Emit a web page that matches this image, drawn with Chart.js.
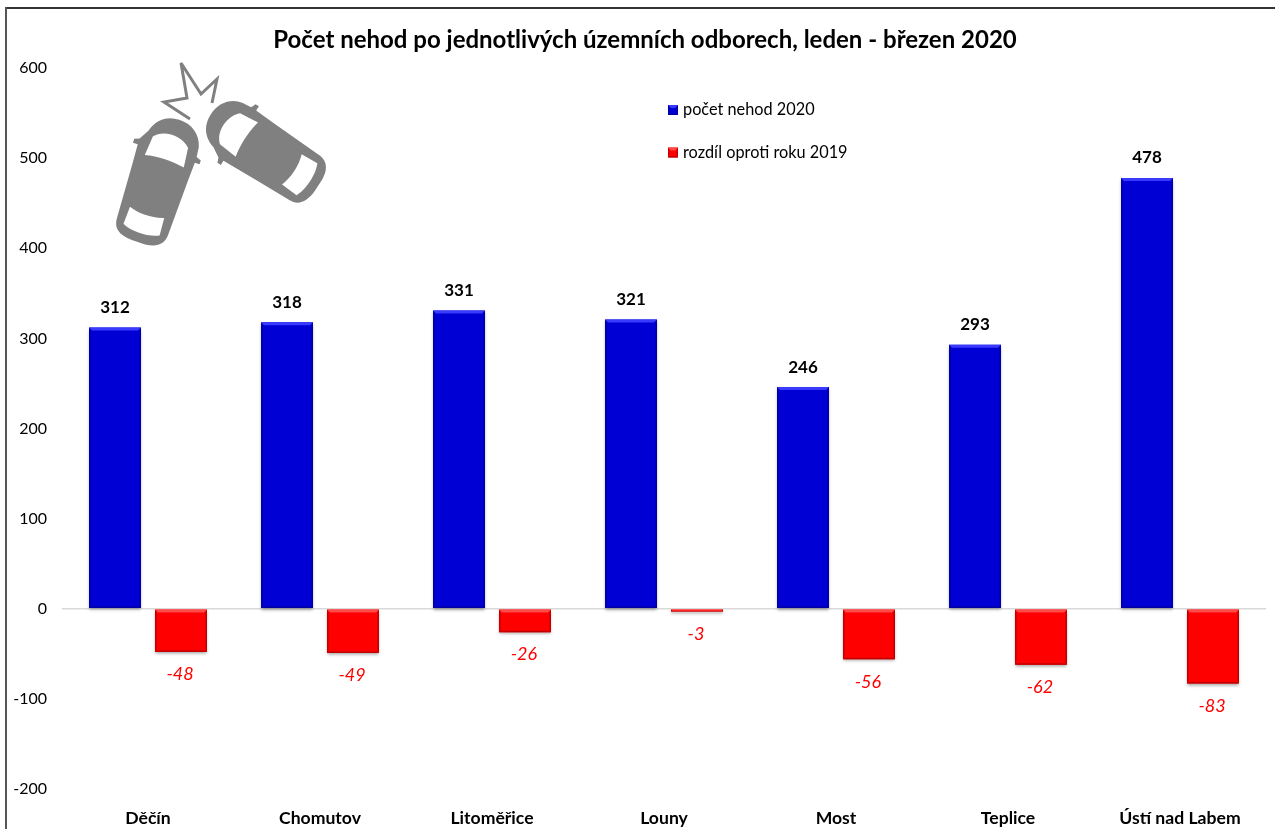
<!DOCTYPE html>
<html>
<head>
<meta charset="utf-8">
<title>Počet nehod</title>
<script src="https://cdn.jsdelivr.net/npm/chart.js@4/dist/chart.umd.js"></script>
<style>
html,body{margin:0;padding:0;background:#fff;overflow:hidden}
#wrap{position:relative;width:1275px;height:829px}
#chart{position:absolute;left:0;top:0}
#cars{position:absolute;left:0;top:0}
</style>
</head>
<body>
<div id="wrap">
<canvas id="chart" width="1275" height="829"></canvas>
<!-- car crash pictogram -->
<svg id="cars" width="1275" height="829" viewBox="0 0 1275 829">
  <defs>
    <g id="car">
      <path fill="#808080" d="M-24 -46 C-20 -60 -10 -66 2 -66 C16 -66 26 -58 29 -46 L30 -36 L35 -34 L35 -30 L30 -30 L29 -10 L27 46 C27 57 20 62 8 63 L-6 63 C-20 62 -27 57 -27 46 L-29 -10 L-30 -30 L-35 -30 L-35 -34 L-30 -36 Z"/>
      <path fill="#fff" d="M-20 -22 L-18 -42 C-10 -52 10 -52 19 -42 L21 -22 C8 -25 -7 -25 -20 -22 Z"/>
      <path fill="#fff" d="M-18 32 C-8 36 8 36 18 32 L19 50 C10 55 -10 55 -19 50 Z"/>
    </g>
  </defs>
  <use href="#car" transform="translate(157 182) rotate(18)"/>
  <use href="#car" transform="translate(265 152) rotate(-57)"/>
  <polyline fill="none" stroke="#808080" stroke-width="3" points="190,119 164,102 187,98 181,63 201,94 217,79 212,103"/>
</svg>
</div>
<script>
const chartTitle = "Počet nehod po jednotlivých územních odborech, leden - březen 2020";
const categories = ["Děčín", "Chomutov", "Litoměřice", "Louny", "Most", "Teplice", "Ústí nad Labem"];
const nehody2020 = [312, 318, 331, 321, 246, 293, 478];
const rozdil2019 = [-48, -49, -26, -3, -56, -62, -83];
const yTickValues = [-200, -100, 0, 100, 200, 300, 400, 500, 600];
const seriesNames = ["počet nehod 2020", "rozdíl oproti roku 2019"];
const FONT = "Lato, Carlito, sans-serif";

// shadow under the bars, like the bevel style from Excel
const barShadow = {
  id: "barShadow",
  beforeDatasetDraw(chart) {
    const c = chart.ctx;
    c.save();
    c.shadowColor = "rgba(0,0,0,.35)";
    c.shadowBlur = 3;
    c.shadowOffsetY = 2;
  },
  afterDatasetDraw(chart) {
    chart.ctx.restore();
  }
};

function bevel(c, el, light, dark) {
  const x0 = el.x - el.width / 2, x1 = el.x + el.width / 2;
  const y0 = Math.min(el.y, el.base), y1 = Math.max(el.y, el.base);
  const b = Math.min(3, (y1 - y0) / 2);
  c.fillStyle = light;
  c.beginPath();
  c.moveTo(x0, y0); c.lineTo(x1, y0); c.lineTo(x1 - b, y0 + b); c.lineTo(x0 + b, y0 + b);
  c.fill();
  c.fillStyle = dark;
  c.beginPath();
  c.moveTo(x0, y1); c.lineTo(x1, y1); c.lineTo(x1 - b / 2, y1 - b / 2); c.lineTo(x0 + b / 2, y1 - b / 2);
  c.fill();
  c.beginPath();
  c.moveTo(x1, y0); c.lineTo(x1, y1); c.lineTo(x1 - 1.5, y1 - b); c.lineTo(x1 - 1.5, y0 + b);
  c.fill();
  c.beginPath();
  c.moveTo(x0, y0); c.lineTo(x0, y1); c.lineTo(x0 + 1.5, y1 - b); c.lineTo(x0 + 1.5, y0 + b);
  c.fill();
}

const decorations = {
  id: "decorations",
  afterDatasetsDraw(chart) {
    const c = chart.ctx;
    const tones = [["#3a3aff", "#0000a0"], ["#ff4a4a", "#c00000"]];
    chart.getDatasetMeta(0).data.forEach((el) => bevel(c, el, tones[0][0], tones[0][1]));
    chart.getDatasetMeta(1).data.forEach((el) => bevel(c, el, tones[1][0], tones[1][1]));

    c.save();
    c.textAlign = "center";
    c.textBaseline = "middle";
    // value labels
    c.font = "bold 17px " + FONT;
    c.fillStyle = "#000";
    chart.getDatasetMeta(0).data.forEach((el, i) => {
      c.fillText(nehody2020[i], el.x, el.y - 20);
    });
    c.font = "italic 18px " + FONT;
    c.fillStyle = "#ff0000";
    chart.getDatasetMeta(1).data.forEach((el, i) => {
      c.fillText(rozdil2019[i], el.x - 1, el.y + 22.5);
    });
    // title
    c.font = "bold 24px " + FONT;
    c.fillStyle = "#000";
    c.fillText(chartTitle, 645, 40);
    // legend
    c.textAlign = "left";
    c.font = "16.3px " + FONT;
    seriesNames.forEach((name, i) => {
      const y = 110 + i * 42.5;
      c.fillStyle = chart.data.datasets[i].backgroundColor;
      c.fillRect(668, y - 5, 10, 10);
      bevel(c, { x: 673, width: 10, y: y - 5, base: y + 5 }, tones[i][0], tones[i][1]);
      c.fillStyle = "#000";
      c.fillText(name, 683, y);
    });
    // frame
    c.fillStyle = "#333";
    c.fillRect(5, 7, 1270, 2);
    c.fillStyle = "#555";
    c.fillRect(5, 7, 2, 822);
    c.restore();
  }
};

new Chart(document.getElementById("chart"), {
  type: "bar",
  data: {
    labels: categories,
    datasets: [
      { label: seriesNames[0], data: nehody2020, backgroundColor: "#0000d4" },
      { label: seriesNames[1], data: rozdil2019, backgroundColor: "#ff0000" }
    ]
  },
  options: {
    responsive: false,
    animation: false,
    layout: { padding: { top: 68, right: 9, left: 0, bottom: 0 } },
    categoryPercentage: 0.767,
    barPercentage: 0.788,
    plugins: { legend: { display: false }, title: { display: false }, tooltip: { enabled: false } },
    scales: {
      x: {
        grid: { display: false },
        border: { display: false },
        afterFit(s) { s.height = 40; },
        ticks: {
          color: "#000",
          padding: 11,
          maxRotation: 0,
          autoSkip: false,
          font: { family: FONT, size: 17.6, weight: "bold" }
        }
      },
      y: {
        min: -200,
        max: 600,
        afterFit(s) { s.width = 62; },
        afterBuildTicks(s) { s.ticks = yTickValues.map((v) => ({ value: v })); },
        border: { display: false },
        grid: {
          drawTicks: false,
          lineWidth: 1.5,
          color: (ctx) => (ctx.tick && ctx.tick.value === 0 ? "#d9d9d9" : "rgba(0,0,0,0)")
        },
        ticks: {
          color: "#000",
          padding: 15,
          font: { family: FONT, size: 16 }
        }
      }
    }
  },
  plugins: [barShadow, decorations]
});
</script>
</body>
</html>
